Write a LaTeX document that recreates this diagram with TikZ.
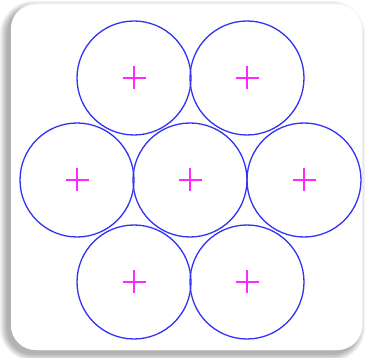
\documentclass[tikz,border=0pt]{standalone}
\begin{document}
\begin{tikzpicture}[x=1pt,y=-1pt,
  ring/.style={circle,draw={rgb,255:red,50;green,50;blue,245},line width=1.3pt,minimum size=114pt,inner sep=0pt},
  crossmark/.style={draw={rgb,255:red,255;green,40;blue,255},line width=1.4pt}]
\useasboundingbox (0,0) rectangle (367,358);
% soft shadow layers
\foreach \i in {0,...,9}{
  \fill[black,opacity=0.035,rounded corners=25pt+\i pt] (11-4-\i*0.8,5+3-\i*0.8) rectangle (362-4+\i*0.8,350+4+\i*0.8);
}
\fill[black!3,rounded corners=25pt] (11,3.5) rectangle (362.5,350);
\fill[white,rounded corners=25pt] (11,5) rectangle (362,350);
\node[ring] (a) at (134,78) {};
\node[ring] (b) at (247,78) {};
\node[ring] (c) at (77,180) {};
\node[ring] (d) at (190,180) {};
\node[ring] (e) at (304,180) {};
\node[ring] (f) at (134,282) {};
\node[ring] (g) at (247,282) {};
\foreach \n in {a,b,c,d,e,f,g}{
  \draw[crossmark] (\n.center) ++(-11.5,0) -- ++(23,0);
  \draw[crossmark] (\n.center) ++(0,-11.5) -- ++(0,23);
}
\end{tikzpicture}
\end{document}
